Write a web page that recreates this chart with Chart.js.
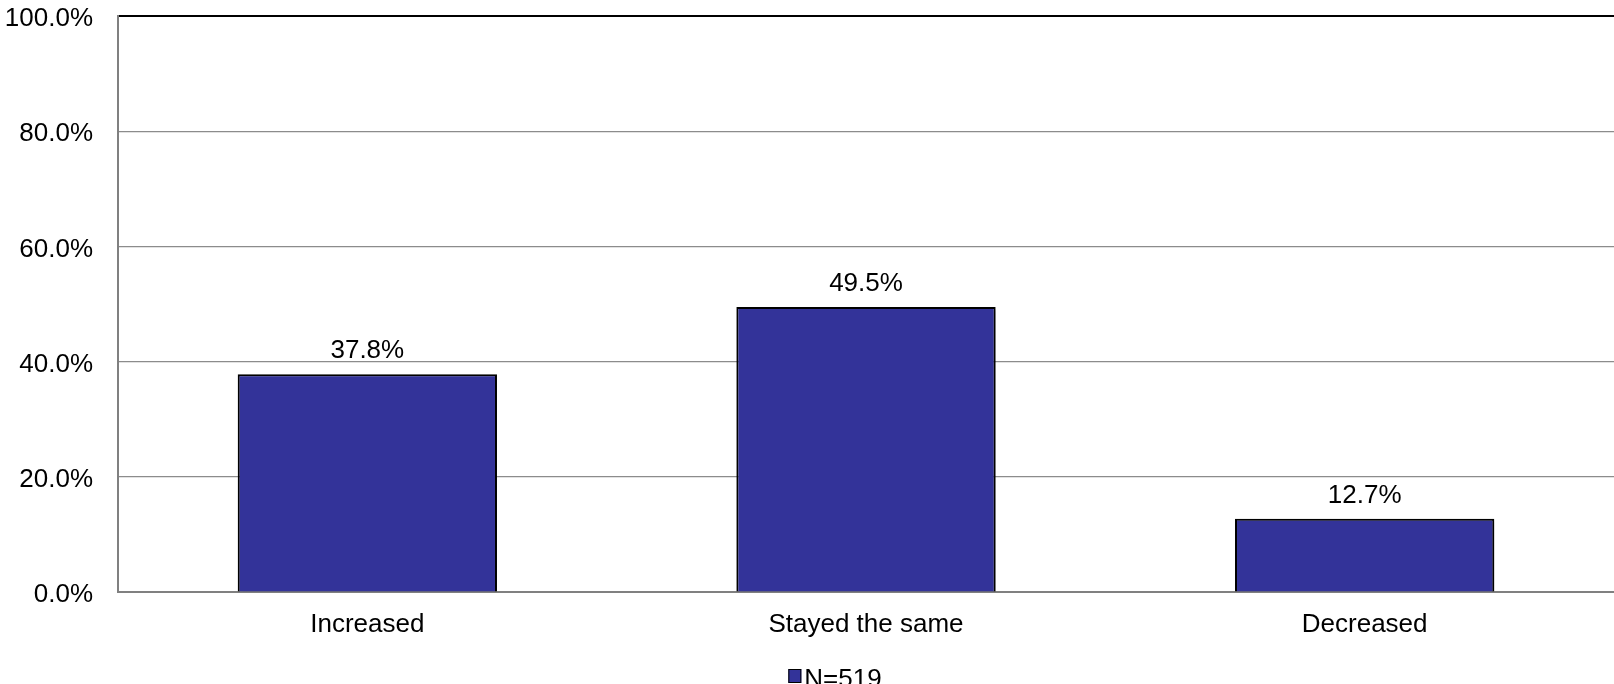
<!DOCTYPE html>
<html>
<head>
<meta charset="utf-8">
<script src="https://cdn.jsdelivr.net/npm/chart.js@4.4.0/dist/chart.umd.min.js"></script>
<style>
  html, body { margin: 0; padding: 0; background: #fff; overflow: hidden; }
  #wrap { width: 1614px; height: 684px; position: relative; }
</style>
</head>
<body>
<div id="wrap"><canvas id="c" width="1614" height="684"></canvas></div>
<script>
const categories = ['Increased', 'Stayed the same', 'Decreased'];
const values = [37.8, 49.5, 12.7];
const seriesLabel = 'N=519';
const yMin = 0, yMax = 100, yStep = 20;

const FONT = '"Liberation Sans", Arial, sans-serif';
const BAR_COLOR = '#333399';

const barShadow = {
  id: 'barShadow',
  beforeDatasetsDraw(chart) {
    const ctx = chart.ctx;
    ctx.save();
    ctx.shadowColor = 'rgba(0,0,0,0.25)';
    ctx.shadowBlur = 4;
    ctx.shadowOffsetX = 3;
    ctx.shadowOffsetY = 2;
  },
  afterDatasetsDraw(chart) {
    chart.ctx.restore();
  }
};

const valueLabels = {
  id: 'valueLabels',
  afterDatasetsDraw(chart) {
    const ctx = chart.ctx;
    const meta = chart.getDatasetMeta(0);
    ctx.save();
    ctx.font = '26px ' + FONT;
    ctx.fillStyle = '#000';
    ctx.textAlign = 'center';
    ctx.textBaseline = 'alphabetic';
    meta.data.forEach((bar, i) => {
      ctx.fillText(values[i].toFixed(1) + '%', bar.x, bar.y - 16);
    });
    ctx.restore();
  }
};

const customLegend = {
  id: 'customLegend',
  afterDraw(chart) {
    const ctx = chart.ctx;
    ctx.save();
    ctx.font = '26px ' + FONT;
    const tw = ctx.measureText(seriesLabel).width;
    const boxW = 13, gap = 3;
    const total = boxW + gap + tw;
    const cx = 835;
    const x0 = cx - total / 2;
    ctx.fillStyle = BAR_COLOR;
    ctx.fillRect(x0, 669, boxW, 14);
    ctx.strokeStyle = '#000';
    ctx.lineWidth = 1;
    ctx.strokeRect(x0 + 0.5, 669.5, boxW - 1, 13);
    ctx.fillStyle = '#000';
    ctx.textAlign = 'left';
    ctx.textBaseline = 'alphabetic';
    ctx.fillText(seriesLabel, x0 + boxW + gap, 687);
    ctx.restore();
  }
};

new Chart(document.getElementById('c'), {
  type: 'bar',
  data: {
    labels: categories,
    datasets: [{
      label: seriesLabel,
      data: values,
      backgroundColor: BAR_COLOR,
      borderColor: '#000',
      borderWidth: 2,
      barPercentage: 0.52,
      categoryPercentage: 1.0
    }]
  },
  options: {
    responsive: false,
    animation: false,
    events: [],
    layout: { padding: { top: 16, right: 0, bottom: 0, left: 0 } },
    plugins: {
      legend: { display: false },
      tooltip: { enabled: false },
      title: { display: false }
    },
    scales: {
      x: {
        grid: { display: false, drawTicks: false },
        border: { display: true, color: '#808080', width: 2 },
        ticks: {
          color: '#000',
          font: { family: FONT, size: 26 },
          padding: 17,
          maxRotation: 0
        },
        afterFit(scale) { scale.height = 92; scale.paddingLeft = 0; scale.paddingRight = 0; }
      },
      y: {
        min: yMin,
        max: yMax,
        grid: {
          drawTicks: false,
          color: (c) => (c.tick && c.tick.value === yMax) ? '#000' : '#8c8c8c',
          lineWidth: (c) => (c.tick && c.tick.value === yMax) ? 2 : 1.2
        },
        border: { display: true, color: '#808080', width: 2 },
        ticks: {
          stepSize: yStep,
          color: '#000',
          font: { family: FONT, size: 26 },
          padding: 25,
          labelOffset: 3,
          callback: (v) => Number(v).toFixed(1) + '%'
        },
        afterFit(scale) { scale.width = 118; scale.paddingTop = 0; scale.paddingBottom = 0; }
      }
    }
  },
  plugins: [barShadow, valueLabels, customLegend]
});
</script>
</body>
</html>
